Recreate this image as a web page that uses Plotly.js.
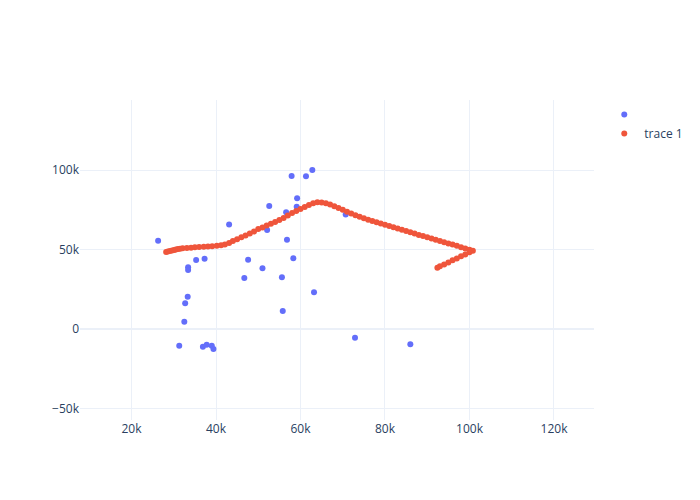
<!DOCTYPE html>
<html>
<head>
<meta charset="utf-8">
<script src="https://cdn.plot.ly/plotly-3.0.1.min.js"></script>
<style>html,body{margin:0;padding:0;background:#fff;}#chart{width:700px;height:500px;}</style>
</head>
<body>
<div id="chart"></div>
<script>
// Trace 0 (unnamed) scatter points
const blueX = [26.3, 57.9, 61.3, 62.8, 59.2, 59.1, 52.6, 56.6, 70.7, 43.1, 52.1, 56.8, 35.3, 37.3, 33.4, 33.4, 47.6, 58.3, 51.0, 46.7, 55.6, 33.3, 32.7, 63.2, 32.5, 55.8, 72.9, 31.3, 36.9, 37.8, 39.0, 39.4, 86.0].map(v => v * 1000);
const blueY = [55.5, 96.2, 96.0, 100.0, 82.2, 76.9, 77.4, 73.4, 72.0, 65.8, 62.3, 56.2, 43.4, 44.2, 38.8, 37.1, 43.6, 44.5, 38.2, 32.1, 32.5, 20.3, 16.2, 23.1, 4.6, 11.3, -5.5, -10.5, -11.1, -9.9, -10.5, -12.6, -9.6].map(v => v * 1000);

// Trace 1 path
const redX = [28.2, 28.6, 29.1, 29.6, 30.1, 30.5, 31.0, 31.5, 32.1, 33.1, 34.1, 35.0, 36.0, 37.1, 38.1, 39.1, 40.2, 41.2, 42.1, 43.1, 44.0, 45.0, 46.0, 47.0, 48.0, 49.0, 50.0, 51.0, 52.0, 53.0, 54.0, 55.0, 56.0, 57.0, 58.0, 59.0, 60.0, 61.0, 62.0, 63.0, 64.0, 65.0, 66.0, 67.0, 68.0, 69.0, 70.0, 71.0, 72.0, 73.0, 74.0, 75.0, 76.0, 77.0, 78.0, 79.0, 80.0, 81.0, 82.0, 83.0, 84.0, 85.0, 86.0, 87.0, 88.0, 89.0, 90.0, 91.0, 92.0, 93.0, 94.0, 95.0, 96.0, 97.0, 98.0, 99.0, 100.0, 100.8, 100.0, 99.0, 98.0, 97.0, 96.0, 95.0, 94.0, 93.0, 92.4].map(v => v * 1000);
const redY = [48.4, 48.7, 49.1, 49.4, 49.7, 50.0, 50.3, 50.5, 50.8, 50.9, 51.1, 51.4, 51.6, 51.7, 51.9, 52.1, 52.3, 52.6, 53.1, 54.1, 55.3, 56.4, 57.7, 58.8, 60.1, 61.3, 62.9, 63.8, 65.1, 66.2, 67.3, 68.5, 69.8, 71.4, 73.0, 74.2, 75.5, 76.7, 78.0, 79.1, 79.7, 79.6, 79.1, 78.3, 77.2, 76.1, 75.0, 73.8, 72.6, 71.5, 70.6, 69.7, 68.7, 67.9, 67.2, 66.4, 65.5, 64.8, 64.0, 63.2, 62.4, 61.6, 60.8, 60.0, 59.2, 58.5, 57.7, 56.9, 56.1, 55.3, 54.5, 53.8, 53.1, 52.3, 51.4, 50.6, 49.8, 49.2, 48.2, 46.9, 45.7, 44.4, 43.2, 41.9, 40.6, 39.4, 38.6].map(v => v * 1000);

const grid = '#EBF0F8';
const data = [
  {x: blueX, y: blueY, mode: 'markers', type: 'scatter', name: '', marker: {color: '#636efa', size: 6}},
  {x: redX, y: redY, mode: 'markers', type: 'scatter', name: 'trace 1', marker: {color: '#EF553B', size: 6}}
];
const layout = {
  width: 700, height: 500,
  paper_bgcolor: '#fff', plot_bgcolor: '#fff',
  font: {family: '"Open Sans", verdana, arial, sans-serif', size: 12, color: '#2a3f5f'},
  xaxis: {range: [7810, 129470], showline: false, gridcolor: grid, zerolinecolor: grid, zerolinewidth: 2, ticks: ''},
  yaxis: {range: [-57230, 144030], showline: false, gridcolor: grid, zerolinecolor: grid, zerolinewidth: 2, ticks: ''},
  showlegend: true
};
Plotly.newPlot('chart', data, layout, {displayModeBar: false});
</script>
</body>
</html>
